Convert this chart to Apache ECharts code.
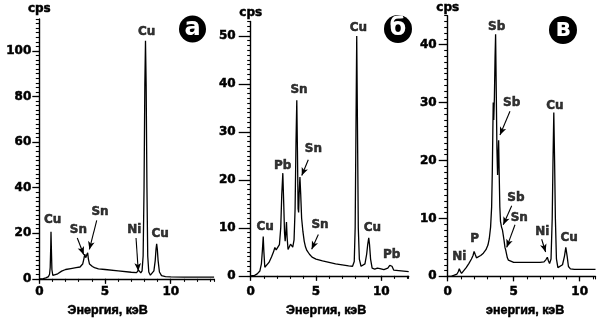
<!DOCTYPE html>
<html><head><meta charset="utf-8">
<script src="https://cdn.jsdelivr.net/npm/echarts@6/dist/echarts.min.js"></script>
<style>html,body{margin:0;padding:0;background:#fff}#c{width:604px;height:322px}</style>
</head><body><div id="c"></div>
<script>
// ---- Panel а ----
const energyA = [0,0.3,0.5,0.7,0.78,0.83,0.87,0.89,0.92,0.96,1.03,1.15,1.4,1.7,2.0,2.4,2.8,3.1,3.3,3.4,3.46,3.53,3.6,3.68,3.74,3.82,3.9,3.97,4.04,4.2,4.5,5,6,7,7.4,7.48,7.55,7.62,7.72,7.82,7.9,7.97,8.03,8.08,8.13,8.19,8.25,8.33,8.45,8.6,8.72,8.82,8.88,8.93,8.98,9.04,9.14,9.3,9.6,10,11,12,13.3];
const cpsA    = [0,0.1,0.4,1.0,2.0,5,14,20.7,13,4,1.5,1.3,2.2,3.4,4.1,4.5,4.9,5.2,6.5,9.0,10.8,9.3,10.3,11.4,8.5,6.5,5.8,6.6,5.4,4.9,4.4,4.1,3.5,2.9,2.7,3.1,3.8,3.1,2.6,3.5,10,40,85,104.5,85,40,10,3,1.6,1.8,3.5,8,13,15.4,13,8,3,1.4,1.0,0.85,0.8,0.8,0.8];
const labelsA = ['Cu','Sn','Sn','Ni','Cu','Cu'];
const labelXA = [1.02,2.97,4.62,7.23,9.19,8.17];
const labelYA = [26,21.3,29.4,21.3,19.7,108.4];
const arrowsA = [[2.89,17.9,3.38,10.6],[4.37,25.7,3.81,12.9],[7.36,17.9,7.53,3.4]];
const yTicksA = [0,20,40,60,80,100];

// ---- Panel б ----
const energyB = [0,0.3,0.5,0.7,0.82,0.9,0.96,1.01,1.08,1.18,1.4,1.6,1.75,1.85,1.95,2.05,2.2,2.3,2.38,2.46,2.53,2.59,2.64,2.69,2.74,2.79,2.86,2.96,3.05,3.12,3.22,3.32,3.4,3.47,3.53,3.58,3.63,3.67,3.71,3.77,3.83,3.9,4.0,4.1,4.2,4.3,4.38,4.43,4.5,4.7,5.0,5.5,6.0,6.5,7.0,7.5,7.8,7.93,8.0,8.06,8.12,8.18,8.24,8.32,8.45,8.6,8.75,8.88,8.96,9.04,9.1,9.18,9.3,9.5,9.7,9.8,9.9,10.2,10.5,10.65,10.73,10.82,10.95,11.1,12.1];
const cpsB    = [0,0.1,0.4,1.0,2.5,5.5,8.2,5,1.8,1.6,2.8,4.0,5.0,5.9,5.4,5.4,6.5,10,17,21.4,15,9,7.2,9,11.2,8,5.5,5.8,6.6,6.2,6.0,7.5,14,28,36.6,26,14,13.2,17,20.6,17,12,9.2,7.2,6.0,5.3,5.0,5.1,4.5,3.9,3.5,3.1,2.8,2.5,2.3,2.1,2.0,3,10,30,50,30,10,3.5,2.0,1.8,2.5,4.5,6.5,7.9,6.5,3.5,1.6,1.4,1.6,1.7,1.5,1.3,1.6,2.2,2.5,2.0,1.2,0.9,0.9];
const labelsB = ['Cu','Pb','Sn','Sn','Sn','Cu','Cu','Pb'];
const labelXB = [1.10,2.45,3.70,4.80,5.31,8.25,9.32,10.80];
const labelYB = [10.2,22.9,38.7,26.4,10.7,51.6,9.9,4.35];
const arrowsB = [[4.41,24.2,3.91,20.9],[5.18,8.6,4.67,5.55]];
const yTicksB = [0,10,20,30,40,50];

// ---- Panel в ----
const energyC = [0,0.3,0.5,0.7,0.8,0.88,0.95,1.05,1.2,1.4,1.6,1.8,1.92,2.0,2.08,2.18,2.3,2.5,2.7,2.9,3.05,3.15,3.25,3.33,3.38,3.42,3.45,3.49,3.54,3.59,3.63,3.68,3.73,3.78,3.82,3.86,3.9,3.95,4.0,4.08,4.15,4.2,4.27,4.34,4.4,4.45,4.52,4.6,4.75,5.0,6.0,7.0,7.3,7.45,7.55,7.63,7.72,7.83,7.92,7.98,8.04,8.1,8.16,8.24,8.35,8.5,8.7,8.85,8.95,9.05,9.15,9.3,9.6,10.5,11.2];
const cpsC    = [0,0.05,0.2,0.4,0.8,1.3,0.9,0.5,0.8,1.5,2.2,3.0,3.6,4.3,3.8,3.2,3.3,3.6,4.0,4.6,5.4,6.5,8.5,12,18,25,30,27,31,38,41.8,32,22,17.5,21,23.5,18,12,9.5,8.5,8.0,7.8,6.2,5.0,4.5,4.2,3.2,2.8,2.5,2.4,2.4,2.4,2.5,2.9,3.3,2.7,2.2,3,10,20,28.3,20,10,3,1.5,1.4,2,3.5,5.0,3.5,1.7,1.3,1.2,1.2,1.2];
const labelsC = ['Ni','P','Sb','Sb','Sb','Sn','Ni','Cu','Cu'];
const labelXC = [0.88,2.05,3.71,4.85,5.17,5.42,7.17,8.13,9.21];
const labelYC = [3.3,6.5,43.1,29.9,13.5,10.1,7.6,29.4,6.6];
const arrowsC = [[4.72,28.5,3.96,24.4],[4.85,12.2,4.21,8.9],[5.10,8.9,4.47,5.0],[7.12,6.4,7.42,4.2]];
const yTicksC = [0,10,20,30,40];

const xTicks = [0,5,10];
const xTitleA = 'Энергия, кэВ';
const xTitleB = 'Энергия, кэВ';
const xTitleC = 'энергия, кэВ';
const badges = ['а','б','в'];

const NUM_FONT = 'DejaVu Sans';
const TITLE_FONT = 'Liberation Sans';
const boldStroke = {textBorderColor:'#000', textBorderWidth:0.5};

const panels = [
  {e:energyA, c:cpsA, ln:labelsA, lx:labelXA, ly:labelYA, ar:arrowsA, yt:yTicksA, title:xTitleA,
   grid:{left:39.3, top:19, width:174.8, height:268}, xMax:13.3, yMax:114, yInt:20, yMinor:2,
   yTickLen:7, yLabMargin:8, xLabMargin:7.5, nameGap:19.5, titlePad:[0,38,0,0], cpsGap:4},
  {e:energyB, c:cpsB, ln:labelsB, lx:labelXB, ly:labelYB, ar:arrowsB, yt:yTicksB, title:xTitleB,
   grid:{left:250.7, top:21.5, width:158, height:264.5}, xMax:12.1, yMax:53, yInt:10, yMinor:1,
   yTickLen:12, yLabMargin:15, xLabMargin:10.5, nameGap:21.5, titlePad:[0,7,0,0], cpsGap:3},
  {e:energyC, c:cpsC, ln:labelsC, lx:labelXC, ly:labelYC, ar:arrowsC, yt:yTicksC, title:xTitleC,
   grid:{left:447.7, top:15.7, width:147.8, height:271}, xMax:11.2, yMax:45, yInt:10, yMinor:1,
   yTickLen:9, yLabMargin:11, xLabMargin:10, nameGap:22.5, titlePad:[0,0,0,7], cpsGap:2}
];

const grid = [], xAxis = [], yAxis = [], series = [];
const axisCol = '#000';
panels.forEach((p, i) => {
  grid.push(Object.assign({containLabel:false}, p.grid));
  xAxis.push({type:'value', gridIndex:i, min:0, max:p.xMax, interval:5, position:'bottom',
    axisLine:{show:true, onZero:false, lineStyle:{color:axisCol, width:1.4}},
    axisTick:{show:true, length:5, customValues:xTicks, lineStyle:{color:axisCol, width:1.3}},
    axisLabel:Object.assign({customValues:xTicks, margin:p.xLabMargin, color:'#000', fontFamily:NUM_FONT, fontWeight:'bold', fontSize:12,
      formatter:v => (xTicks.indexOf(v) >= 0 ? String(v) : '')}, boldStroke),
    splitLine:{show:false},
    name:p.title, nameLocation:'middle', nameGap:p.nameGap,
    nameTextStyle:Object.assign({color:'#000', fontFamily:TITLE_FONT, fontWeight:'bold', fontSize:12.5, padding:p.titlePad}, boldStroke)
  });
  xAxis.push({type:'value', gridIndex:i, min:0, max:p.xMax, interval:1, position:'bottom',
    axisLine:{show:false, onZero:false}, axisTick:{show:true, length:3, lineStyle:{color:axisCol, width:1.1}},
    axisLabel:{show:false}, splitLine:{show:false}});
  yAxis.push({type:'value', gridIndex:i, min:0, max:p.yMax, interval:p.yInt, position:'left',
    axisLine:{show:true, onZero:false, lineStyle:{color:axisCol, width:1.4}},
    axisTick:{show:true, length:p.yTickLen, customValues:p.yt, lineStyle:{color:axisCol, width:1.3}},
    axisLabel:Object.assign({customValues:p.yt, margin:p.yLabMargin, color:'#000', fontFamily:NUM_FONT, fontWeight:'bold', fontSize:12,
      formatter:v => (p.yt.indexOf(v) >= 0 ? String(v) : '')}, boldStroke),
    splitLine:{show:false},
    name:'cps', nameLocation:'end', nameGap:p.cpsGap,
    nameTextStyle:Object.assign({color:'#000', fontFamily:NUM_FONT, fontWeight:'bold', fontSize:12, align:'center'}, boldStroke)
  });
  yAxis.push({type:'value', gridIndex:i, min:0, max:p.yMax, interval:p.yMinor, position:'left',
    axisLine:{show:false, onZero:false}, axisTick:{show:true, length:3.5, lineStyle:{color:axisCol, width:1.1}},
    axisLabel:{show:false}, splitLine:{show:false}});

  const lineData = p.e.map((x, k) => [x, p.c[k]]);
  series.push({type:'line', xAxisIndex:2*i, yAxisIndex:2*i, data:lineData, showSymbol:false, symbol:'none',
    lineStyle:{color:'#000', width:1.3}, silent:true, animation:false,
    markLine:{silent:true, animation:false, symbol:['none','arrow'], symbolSize:[5,8],
      lineStyle:{color:'#000', width:1.1, type:'solid'}, label:{show:false},
      data:p.ar.map(a => [{coord:[a[0], a[1]]}, {coord:[a[2], a[3]]}])}
  });
  series.push({type:'scatter', xAxisIndex:2*i, yAxisIndex:2*i, symbolSize:1, silent:true, animation:false,
    itemStyle:{color:'rgba(0,0,0,0)'},
    data:p.ln.map((n, k) => [p.lx[k], p.ly[k], n]),
    label:Object.assign({show:true, position:'inside', formatter:q => q.data[2], color:'#000',
      fontFamily:NUM_FONT, fontWeight:'bold', fontSize:12}, boldStroke)
  });
});

const badgePos = [[192.5,29,13.5],[398,29,14],[563,30,14]];
const graphic = [];
badges.forEach((b, i) => {
  const [cx, cy, r] = badgePos[i];
  graphic.push({type:'circle', shape:{cx:cx, cy:cy, r:r}, style:{fill:'#000'}, z:10});
  graphic.push({type:'text', x:cx, y:cy, z:11, style:{text:b, fill:'#fff', font:'bold 24px "DejaVu Sans"', align:'center', verticalAlign:'middle'}});
});

const chart = echarts.init(document.getElementById('c'), null, {renderer:'canvas'});
chart.setOption({animation:false, backgroundColor:'#fff', grid, xAxis, yAxis, series, graphic});
</script>
</body></html>
